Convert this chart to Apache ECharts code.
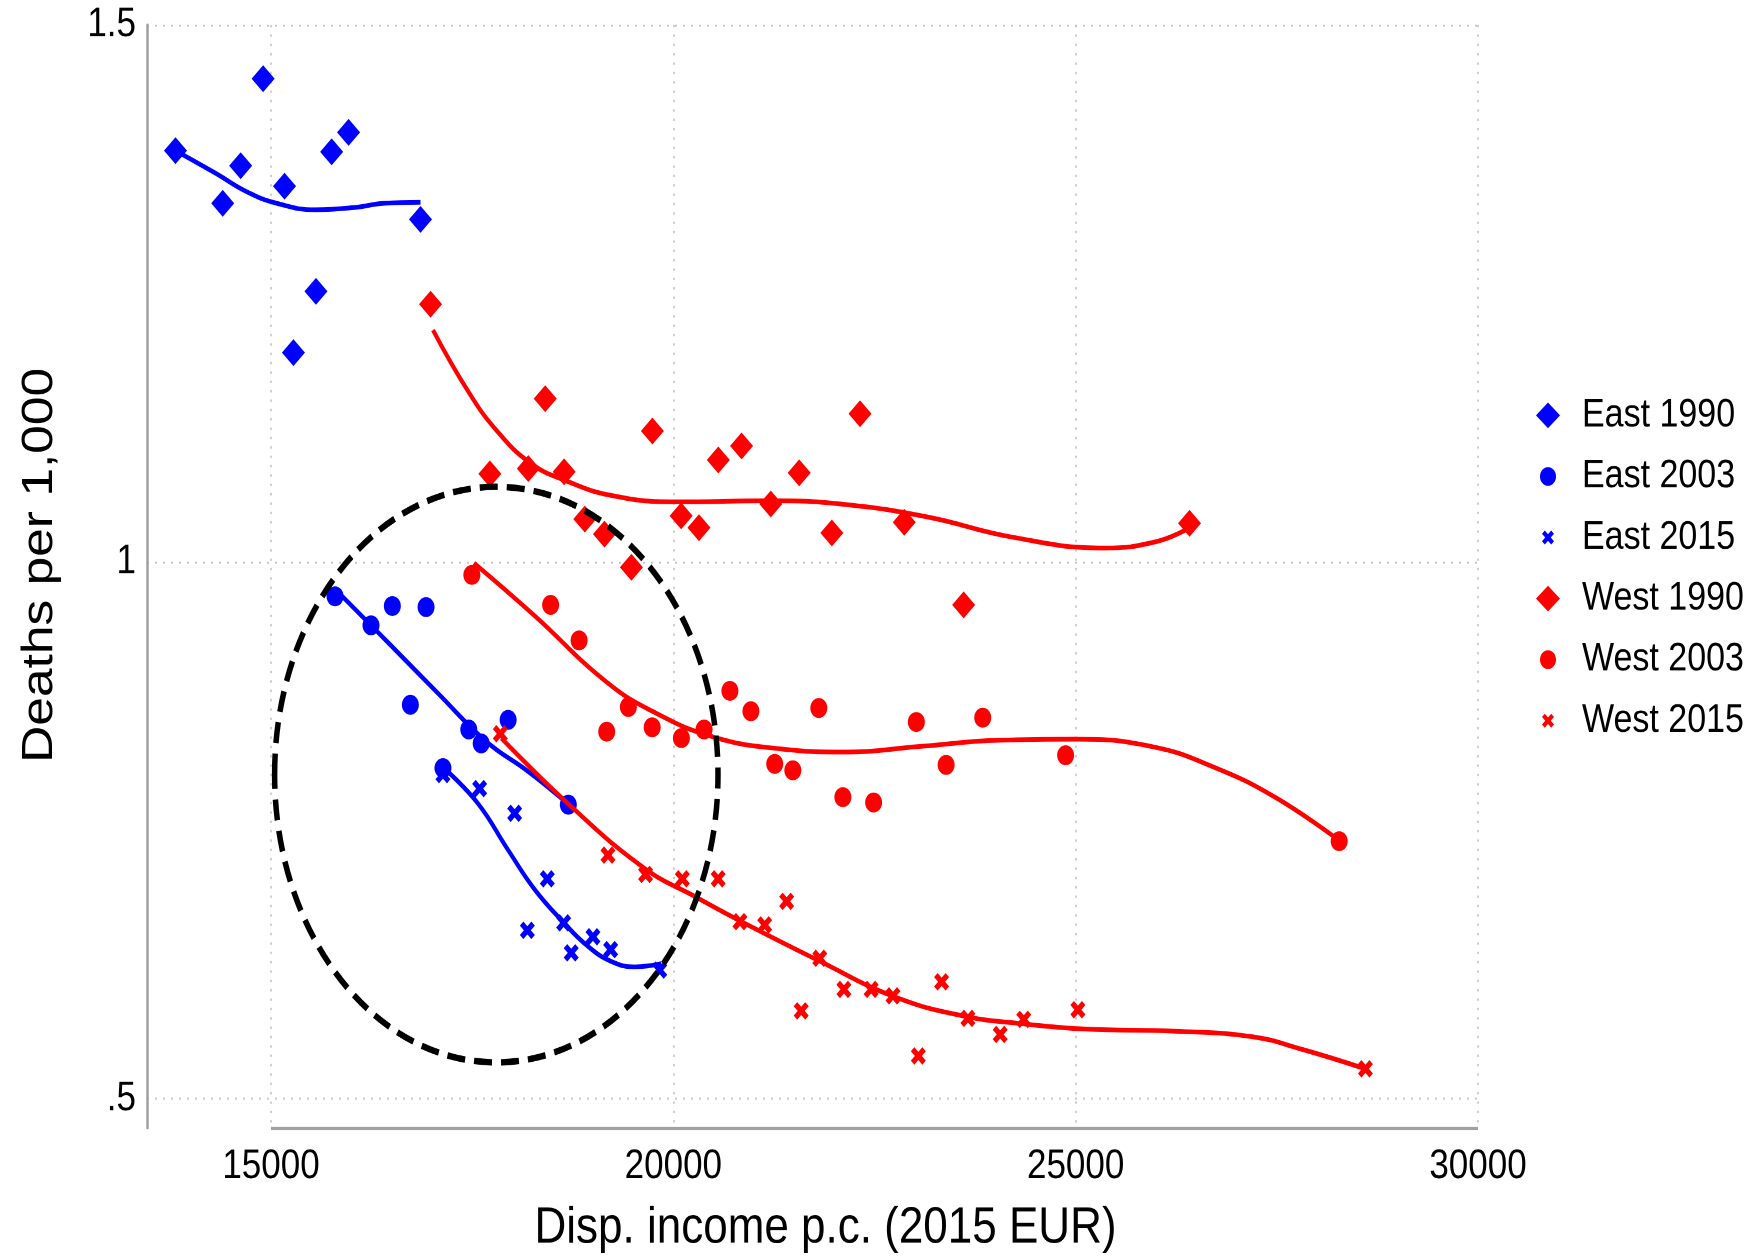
<!DOCTYPE html>
<html><head><meta charset="utf-8">
<script src="https://cdn.jsdelivr.net/npm/echarts@6/dist/echarts.min.js"></script>
<style>
html,body{margin:0;padding:0;background:#fff;overflow:hidden;width:1762px;height:1259px}
#wrap{width:1762px;height:1259px;overflow:hidden;background:#fff}
#chart{width:1762px;height:1076px;transform:scaleY(1.17);transform-origin:0 0}
</style></head><body><div id="wrap"><div id="chart"></div></div>
<script>
// ---- Data (income in 2015 EUR, deaths per 1,000) ----
const seriesNames = ['East 1990','East 2003','East 2015','West 1990','West 2003','West 2015'];
const xTicks = [15000, 20000, 25000, 30000];
const yTicks = [0.5, 1, 1.5];

const eastIncome1990 = [13813,14400,14623,14902,15168,15279,15559,15754,15964,16858];
const eastDeaths1990 = [1.383,1.334,1.369,1.450,1.350,1.195,1.252,1.382,1.400,1.319];
const eastIncome2003 = [15796,16243,16508,16927,16732,17458,17612,17947,17137,18695];
const eastDeaths2003 = [0.968,0.941,0.959,0.958,0.867,0.844,0.831,0.853,0.808,0.774];
const eastIncome2015 = [17137,17593,18028,18434,18186,18637,18731,19001,19221,19831];
const eastDeaths2015 = [0.802,0.789,0.766,0.705,0.657,0.664,0.636,0.651,0.639,0.620];

const westIncome1990 = [16983,18408,17720,18198,18643,19740,18900,19144,19479,20097,20319,20559,20848,21211,21564,22320,21970,22870,23608,26415];
const westDeaths1990 = [1.240,1.152,1.082,1.087,1.084,1.122,1.040,1.026,0.995,1.043,1.032,1.095,1.108,1.054,1.083,1.138,1.027,1.037,0.960,1.036];
const westIncome2003 = [17496,18475,18829,19172,19441,19737,20100,20382,20703,20964,21260,21485,21808,22107,22489,23020,23390,23845,24875,28275];
const westDeaths2003 = [0.988,0.960,0.927,0.842,0.865,0.846,0.836,0.844,0.880,0.861,0.812,0.806,0.864,0.781,0.776,0.851,0.811,0.855,0.820,0.740];
const westIncome2015 = [17850,19188,19655,20112,20557,20828,21135,21408,21820,21589,22120,22458,22730,23045,23334,23661,24062,24355,25028,28601];
const westDeaths2015 = [0.840,0.727,0.709,0.705,0.705,0.665,0.662,0.684,0.631,0.582,0.602,0.602,0.596,0.540,0.609,0.575,0.560,0.574,0.583,0.528];

// fitted curves
const eastFit1990 = [[13813,1.383],[14312,1.362],[14693,1.345],[15073,1.334],[15549,1.328],[16025,1.330],[16405,1.334],[16858,1.335]];
const eastFit2003 = [[15793,0.975],[16468,0.924],[17071,0.878],[17673,0.833],[18194,0.805],[18609,0.780],[18701,0.774]];
const eastFit2015 = [[17179,0.806],[17573,0.775],[17945,0.732],[18277,0.695],[18628,0.665],[18940,0.642],[19229,0.628],[19520,0.623],[19851,0.626]];
const westFit1990 = [[17013,1.216],[17441,1.160],[17797,1.123],[18226,1.092],[18654,1.076],[19225,1.062],[20010,1.056],[21223,1.057],[22079,1.054],[23151,1.042],[24221,1.023],[25362,1.013],[26004,1.019],[26397,1.031]];
const westFit2003 = [[17522,0.999],[18275,0.950],[19140,0.890],[19739,0.861],[20500,0.837],[21326,0.826],[22149,0.823],[23036,0.828],[24052,0.834],[25003,0.835],[25954,0.828],[26715,0.809],[27477,0.781],[28268,0.741]];
const westFit2015 = [[17863,0.836],[18691,0.775],[19637,0.715],[20280,0.688],[20849,0.665],[21800,0.629],[22752,0.595],[23623,0.577],[24336,0.570],[25126,0.565],[26237,0.563],[27187,0.558],[27821,0.546],[28600,0.528]];

// highlighted region (center x, center y, half-width, half-height) in data units
const ellipseRegion = [[17800, 0.802, 2755, 0.268]];

const xMin = 13459, xMax = 30000, yMin = 0.473, yMax = 1.5;

// ---- Styling ----
const BLUE = '#0000ff', RED = '#ff0000';
const FONT = '"Liberation Sans", Arial, Helvetica, sans-serif';
const xShape = 'M0,2.8 L2.8,0 L6,3.2 L9.2,0 L12,2.8 L8.8,6 L12,9.2 L9.2,12 L6,8.8 L2.8,12 L0,9.2 L3.2,6 Z';
const xPath = 'path://' + xShape;
const xLegendPath = 'path://M-5,-5 M17,17 ' + xShape;
const circleLegendPath = 'path://M-3,-3 M19,19 M0,8 A8,8 0 1,1 16,8 A8,8 0 1,1 0,8 Z';

const zip = (xs, ys) => xs.map((x, i) => [x, ys[i]]);

function scatter(name, xs, ys, symbol, size, color) {
  return { type: 'scatter', name, data: zip(xs, ys), symbol, symbolSize: size,
    itemStyle: { color, opacity: 1 }, z: 3, silent: true };
}
function fit(name, data, color) {
  return { type: 'line', name, data, smooth: 0.45, showSymbol: false, symbol: 'none',
    lineStyle: { color, width: 4 }, itemStyle: { color }, z: 4, silent: true, clip: false };
}

const chart = echarts.init(document.getElementById('chart'), null, { renderer: 'canvas', devicePixelRatio: 2 });

const gridLine = { show: true, lineStyle: { color: '#c4c4c4', width: 1.6, type: [2, 6] } };

const option = {
  animation: false,
  backgroundColor: '#fff',
  grid: { left: 147, right: 284, top: 21.4, bottom: 112, containLabel: false, outerBoundsMode: 'none' },
  xAxis: {
    type: 'value', min: xMin, max: xMax,
    name: 'Disp. income p.c. (2015 EUR)', nameLocation: 'middle', nameGap: 64,
    nameTextStyle: { fontSize: 44, color: '#000', fontFamily: FONT, padding: [0, 0, 0, 26] },
    axisLine: { show: false },
    axisTick: { show: false, customValues: xTicks },
    axisLabel: { customValues: xTicks, fontSize: 35, color: '#000', fontFamily: FONT, margin: 16,
      formatter: v => String(v) },
    splitLine: gridLine
  },
  yAxis: {
    type: 'value', min: yMin, max: yMax,
    name: 'Deaths per 1,000', nameLocation: 'middle', nameGap: 85,
    nameTextStyle: { fontSize: 44, color: '#000', fontFamily: FONT, padding: [0, 0, 0, 19] },
    axisLine: { show: true, lineStyle: { color: '#a0a0a0', width: 2.5 } },
    axisTick: { show: false, customValues: yTicks },
    axisLabel: { customValues: yTicks, fontSize: 35, color: '#000', fontFamily: FONT, margin: 11,
      formatter: v => String(+(+v).toFixed(2)).replace(/^0\./, '.') },
    splitLine: gridLine
  },
  legend: {
    orient: 'vertical', left: 1531, top: 333, itemWidth: 24, itemHeight: 22, itemGap: 18.2,
    selectedMode: false,
    textStyle: { fontSize: 34, color: '#000', fontFamily: FONT, lineHeight: 33, padding: [0, 0, 0, 17] },
    data: [
      { name: seriesNames[0], icon: 'diamond' },
      { name: seriesNames[1], icon: circleLegendPath },
      { name: seriesNames[2], icon: xLegendPath },
      { name: seriesNames[3], icon: 'diamond' },
      { name: seriesNames[4], icon: circleLegendPath },
      { name: seriesNames[5], icon: xLegendPath }
    ]
  },
  series: [
    scatter(seriesNames[0], eastIncome1990, eastDeaths1990, 'diamond', 23, BLUE),
    scatter(seriesNames[1], eastIncome2003, eastDeaths2003, 'circle', 17, BLUE),
    scatter(seriesNames[2], eastIncome2015, eastDeaths2015, xPath, 15, BLUE),
    scatter(seriesNames[3], westIncome1990, westDeaths1990, 'diamond', 23, RED),
    scatter(seriesNames[4], westIncome2003, westDeaths2003, 'circle', 17, RED),
    scatter(seriesNames[5], westIncome2015, westDeaths2015, xPath, 15, RED),
    fit('East 1990 fit', eastFit1990, BLUE),
    fit('East 2003 fit', eastFit2003, BLUE),
    fit('East 2015 fit', eastFit2015, BLUE),
    fit('West 1990 fit', westFit1990, RED),
    fit('West 2003 fit', westFit2003, RED),
    Object.assign(fit('West 2015 fit', westFit2015, RED), {
      markLine: {
        silent: true, symbol: 'none', label: { show: false },
        lineStyle: { color: '#a0a0a0', width: 3, type: 'solid' },
        data: [[{ coord: [xTicks[0], yMin] }, { coord: [xTicks[xTicks.length - 1], yMin] }]]
      }
    }),
    {
      type: 'custom', name: 'region', data: ellipseRegion, silent: true, z: 6, clip: false,
      renderItem: function (params, api) {
        const c = api.coord([api.value(0), api.value(1)]);
        const p = api.coord([api.value(0) + api.value(2), api.value(1) + api.value(3)]);
        return {
          type: 'ellipse',
          shape: { cx: c[0], cy: c[1], rx: Math.abs(p[0] - c[0]), ry: Math.abs(p[1] - c[1]) },
          style: { fill: 'none', stroke: '#000', lineWidth: 5.5, lineDash: [18, 9] }
        };
      }
    }
  ]
};
chart.setOption(option);
</script></body></html>
